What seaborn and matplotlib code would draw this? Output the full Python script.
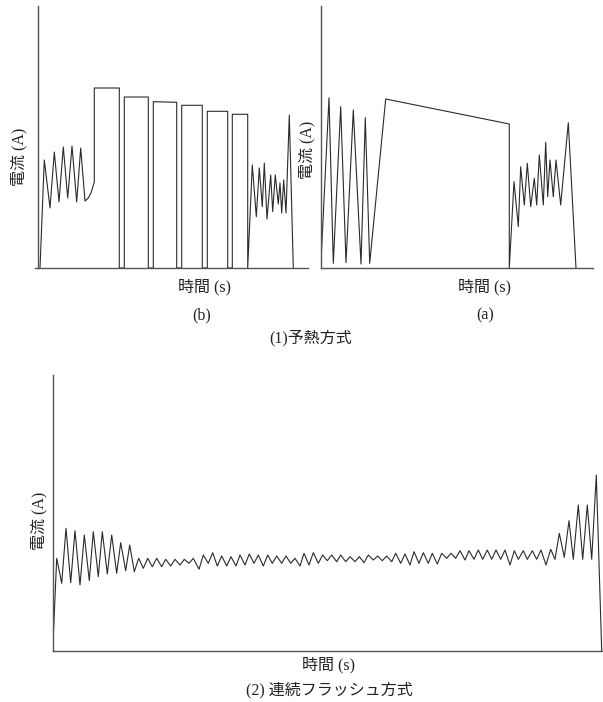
import matplotlib
matplotlib.use("Agg")
import matplotlib.pyplot as plt
import seaborn as sns
import pandas as pd

sns.set_style("white")
FONT = ["Liberation Serif", "Noto Sans CJK JP", "DejaVu Sans"]
plt.rcParams["font.family"] = FONT

# ---- data (arbitrary time / current units) ----
# (b) preheating, pulsed
b_time = [1.7, 6.0, 11.7, 16.0, 20.7, 25.0, 29.4, 33.7, 38.4, 42.4, 46.7, 50.0, 52.7, 56.0,
          56.0, 81.0, 81.0, 86.0, 86.0, 110.0, 110.0, 115.0, 115.0, 138.4, 138.4, 143.4,
          143.4, 164.0, 164.0, 169.0, 169.0, 189.4, 189.4, 194.0, 194.0, 209.4, 209.4,
          214.0, 218.0, 221.0, 224.0, 226.0, 228.7, 232.4, 234.4, 237.0, 240.0, 241.7,
          243.4, 245.4, 247.7, 251.0, 255.0]
b_current = [0, 108, 60, 116, 66, 121, 70, 122, 66, 120, 67, 70, 75, 86,
             180, 180, 0, 0, 171, 171, 0, 0, 166.3, 165.7, 0, 0,
             162.7, 162.7, 0, 0, 156.7, 156.7, 0, 0, 153.7, 153.7, 0,
             103, 51.3, 100, 61.3, 105, 49, 93, 56.3, 93, 64, 85,
             55, 88, 55, 153, 0]

# (a) preheating, continuous
a_time = [0, 8.3, 12.6, 20.0, 25.3, 32.6, 40.3, 44.6, 49.0, 65.0, 188.6, 188.6,
          193.3, 197.6, 200.0, 203.6, 206.6, 210.0, 213.6, 216.0, 218.6, 222.6, 225.0,
          227.0, 229.3, 232.6, 235.3, 240.0, 247.6, 255.3]
a_current = [0, 170.3, 4.7, 161.3, 5.3, 158, 4, 150.3, 4.7, 169, 144, 0,
             86.3, 41.3, 101.3, 63, 104.7, 61.3, 89.7, 63, 113, 63, 125.7,
             71.3, 108, 71.3, 108, 63, 145.3, 0]

# (2) continuous flash
c_time = [0, 4.0, 9.0, 13.3, 18.0, 22.3, 27.3, 31.6, 36.6, 40.6, 45.6, 49.6, 54.6, 59.0,
          64.0, 68.0, 73.0, 77.0, 81.6, 86.0, 90.6, 95.0, 99.6, 104.0, 109.0, 113.0,
          118.0, 122.3, 127.3, 131.6, 136.3, 140.6, 146.3, 150.6, 155.6, 160.0, 164.6,
          169.0, 174.0, 178.3, 183.3, 187.3, 192.3, 196.6, 201.3, 205.6, 210.6, 215.0,
          219.6, 224.0, 229.0, 233.3, 238.0, 242.3, 247.3, 251.3, 256.3, 260.6, 265.6,
          270.0, 274.6, 279.0, 284.0, 288.0, 293.0, 297.3, 302.3, 306.6, 311.3, 315.6,
          320.6, 325.0, 329.6, 334.0, 339.0, 343.0, 348.0, 352.3, 357.3, 361.3, 366.3,
          370.6, 375.6, 379.6, 384.6, 389.0, 394.0, 398.3, 403.0, 407.3, 412.3, 416.3,
          421.3, 425.6, 430.0, 434.6, 439.0, 443.3, 448.0, 452.3, 457.3, 461.6, 465.6,
          470.6, 474.6, 479.6, 484.0, 488.3, 493.3, 498.0, 502.3, 506.6, 511.6, 516.3,
          520.6, 525.6, 530.0, 534.6, 539.0, 543.6, 549.0]
c_current = [0, 92.4, 67.4, 122.4, 68, 120, 65.7, 115.7, 70, 119, 74, 119, 76.7, 115.7,
             77.4, 108, 80, 105.7, 79, 92.4, 82.4, 92.4, 84, 92.4, 84, 91.4,
             84.7, 91.4, 85.7, 91.4, 87.4, 92.4, 81.4, 95.7, 87.4, 98, 84.7,
             94.7, 84.7, 94, 84.7, 95.7, 85.7, 96.7, 87.4, 95.7, 84.7, 95.7,
             87.4, 94.7, 87.4, 94.7, 87.4, 92.4, 84.7, 97.4, 85.7, 98, 87.4,
             95.7, 90, 95.7, 89, 95.7, 89, 94, 89, 94, 88, 95.7,
             90.7, 94.7, 90, 94.7, 89, 97.4, 87.4, 96.7, 85.7, 99, 87.4,
             98, 87.4, 97.4, 86.7, 97.4, 92.4, 97.4, 92.4, 100, 90.7, 100,
             91.4, 100.7, 91.4, 100.7, 91.4, 100.7, 91.4, 100.7, 85.7, 100, 91.4,
             100, 91.4, 100, 91.4, 100.7, 85.7, 101.4, 91.4, 117.4, 93.4, 130,
             91.4, 145.7, 91.4, 145.7, 91.4, 175.7, 0]

ylabel_text = "電流 (A)"
xlabel_text = "時間 (s)"
sub_b = "(b)"
sub_a = "(a)"
cap_1 = "(1)予熱方式"
cap_2 = "(2) 連続フラッシュ方式"

W, H = 603, 702
fig = plt.figure(figsize=(W / 100, H / 100), dpi=100)


def px_axes(l, r, t, b):
    return fig.add_axes([l / W, 1 - b / H, (r - l) / W, (b - t) / H])


LINE = "#2b2b2b"
SPINE = "#555555"


def style(ax, xlim, ylim):
    ax.set_xlim(*xlim)
    ax.set_ylim(*ylim)
    for s in ["top", "right"]:
        ax.spines[s].set_visible(False)
    for s in ["left", "bottom"]:
        ax.spines[s].set_color(SPINE)
        ax.spines[s].set_linewidth(1.0)
    ax.spines["left"].set_position(("data", 0))
    ax.set_xticks([])
    ax.set_yticks([])
    ax.set_xlabel("")
    ax.set_ylabel("")
    ax.patch.set_alpha(0)
    if ax.get_legend():
        ax.get_legend().remove()


ax_b = px_axes(35, 308, 6, 268)
sns.lineplot(data=pd.DataFrame({"t": b_time, "i": b_current}), x="t", y="i",
             sort=False, estimator=None, color=LINE, linewidth=0.8, ax=ax_b)
style(ax_b, (-3.3, 269.7), (0, 262))

ax_a = px_axes(320.7, 593, 6, 268)
sns.lineplot(data=pd.DataFrame({"t": a_time, "i": a_current}), x="t", y="i",
             sort=False, estimator=None, color=LINE, linewidth=0.8, ax=ax_a)
style(ax_a, (0, 272.3), (0, 262))

ax_c = px_axes(52.7, 603, 375, 650.7)
sns.lineplot(data=pd.DataFrame({"t": c_time, "i": c_current}), x="t", y="i",
             sort=False, estimator=None, color=LINE, linewidth=0.8, ax=ax_c)
style(ax_c, (0, 550.3), (0, 275.7))

FS = 11.5


def txt(x, y, s, rot=0):
    fig.text(x / W, 1 - y / H, s, ha="center", va="center", rotation=rot,
             fontsize=FS, family=FONT, color="#222222")


txt(19, 157, ylabel_text, 90)
txt(205, 287, xlabel_text)
txt(202, 315, sub_b)
txt(307, 150, ylabel_text, 90)
txt(485, 287, xlabel_text)
txt(485, 315, sub_a)
txt(311, 338, cap_1)
txt(39, 521, ylabel_text, 90)
txt(329, 665, xlabel_text)
txt(329, 690, cap_2)

fig.savefig("out.png", dpi=100)
